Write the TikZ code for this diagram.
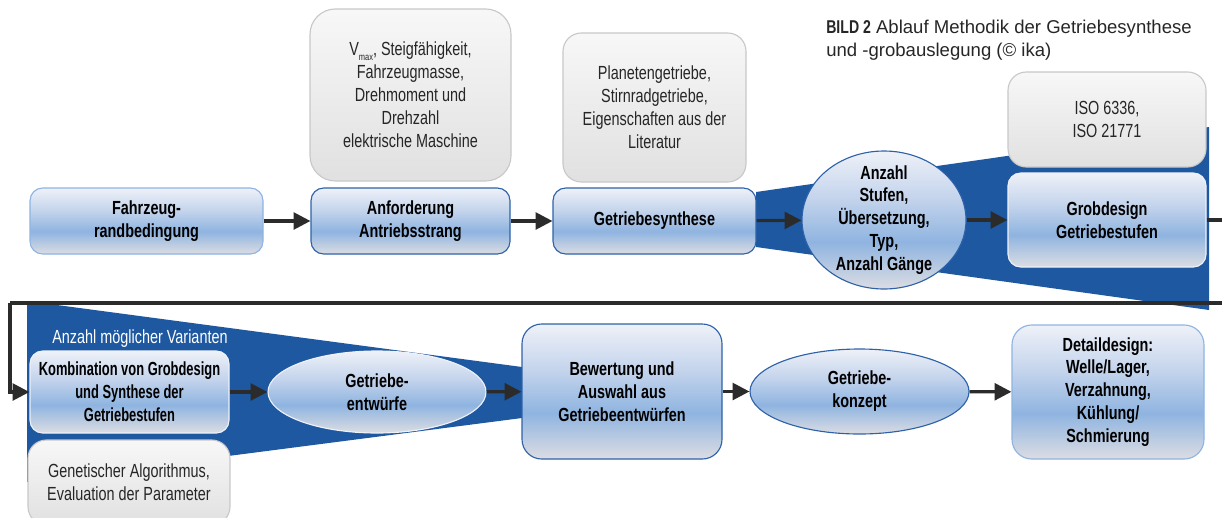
\documentclass[tikz,border=0pt]{standalone}
\usepackage{fontspec}
\setmainfont{Liberation Sans}
\newfontfamily\condfont{Liberation Sans}[FakeStretch=0.76]
\newfontfamily\narrowfont{Liberation Sans}[FakeStretch=0.68]
\usetikzlibrary{shapes.geometric,arrows.meta}

\definecolor{funnelblue}{RGB}{30,88,160}
\definecolor{boxtop}{RGB}{238,241,248}
\definecolor{boxupper}{RGB}{196,212,236}
\definecolor{boxmid}{RGB}{143,180,224}
\definecolor{boxlow}{RGB}{220,221,227}
\definecolor{darkrim}{RGB}{46,98,168}
\definecolor{lightrim}{RGB}{141,180,226}
\definecolor{grayrim}{RGB}{200,200,200}
\definecolor{flowgray}{RGB}{43,43,43}
\pgfdeclareverticalshading{boxshade}{100bp}{color(0bp)=(boxlow); color(25bp)=(boxlow); color(42bp)=(boxmid); color(58bp)=(boxupper); color(75bp)=(boxtop); color(100bp)=(boxtop)}

\begin{document}
\begin{tikzpicture}[
    procbox/.style={rectangle,rounded corners=9pt,shade,shading=boxshade,draw=#1,line width=0.8pt,
      font=\condfont\bfseries\fontsize{13.5}{16.3}\selectfont,align=center,inner sep=0pt},
    procbox/.default=boxtop,
    stateell/.style={ellipse,shade,shading=boxshade,draw=#1,line width=0.8pt,
      font=\condfont\bfseries\fontsize{13.5}{16.3}\selectfont,align=center,inner sep=0pt},
    stateell/.default=boxtop,
    infobox/.style={rectangle,rounded corners=13pt,top color=white!97!black,bottom color=white!88!black,
      draw=grayrim,line width=0.8pt,font=\condfont\fontsize{13.5}{16.3}\selectfont,text=black!85,
      align=center,inner sep=0pt},
    flow/.style={-{Triangle[length=12pt,width=12pt]},line width=2.2pt,draw=flowgray},
    funnel/.style={fill=funnelblue}]
    \useasboundingbox (0,0) rectangle (30.55,-12.925);

    % funnels
    \fill[funnel] (18.9,-4.8) -- (30.225,-3.175) -- (30.225,-7.75) -- (18.9,-6.175) -- cycle;
    \fill[funnel] (0.675,-7.525) -- (13.05,-9.175) -- (13.05,-10.45) -- (0.675,-12.05) -- cycle;

    \node[anchor=north west,align=left,inner sep=0pt,text=black!85,font=\fontsize{13.2}{16.35}\selectfont] (caption) at (20.65,-0.5)
      {{\condfont\bfseries BILD 2} Ablauf Methodik der Getriebesynthese\\und -grobauslegung (\textcopyright{} ika)};

    % first row
    \node[procbox=lightrim,minimum width=5.825cm,minimum height=1.65cm] (fahrzeug) at (3.6625,-5.525) {Fahrzeug-\\randbedingung};
    \node[procbox=darkrim,minimum width=4.975cm,minimum height=1.65cm] (anford) at (10.2625,-5.525) {Anforderung\\Antriebsstrang};
    \node[infobox,minimum width=5.025cm,minimum height=4.3cm,rounded corners=18pt] (anfinfo) at (10.2625,-2.375)
      {V\raisebox{-0.45ex}{\fontsize{7}{7}\selectfont max}, Steigfähigkeit,\\Fahrzeugmasse,\\Drehmoment und\\Drehzahl\\elektrische Maschine};
    \node[procbox=darkrim,minimum width=5.075cm,minimum height=1.65cm] (synth) at (16.3625,-5.525) {Getriebesynthese};
    \node[infobox,minimum width=4.575cm,minimum height=3.725cm] (synthinfo) at (16.3625,-2.6875)
      {Planetengetriebe,\\Stirnradgetriebe,\\Eigenschaften aus der\\Literatur};
    \node[stateell=darkrim,minimum width=4.1cm,minimum height=3.45cm,inner ysep=-6pt] (anzahl) at (22.1,-5.5)
      {Anzahl\\Stufen,\\Übersetzung,\\Typ,\\Anzahl Gänge};
    \node[infobox,minimum width=4.95cm,minimum height=2.375cm] (iso) at (27.675,-2.9875) {ISO 6336,\\ISO 21771};
    \node[procbox,minimum width=4.95cm,minimum height=2.35cm] (grob) at (27.675,-5.5) {Grobdesign\\Getriebestufen};

    % second row
    \node[anchor=west,inner sep=0pt,text=white,font=\condfont\fontsize{13.5}{16.3}\selectfont] (varianten) at (1.3,-8.475) {Anzahl möglicher Varianten};
    \node[procbox,minimum width=4.975cm,minimum height=2.05cm,font=\narrowfont\bfseries\fontsize{13.5}{16.3}\selectfont] (komb) at (3.2375,-9.8)
      {Kombination von Grobdesign\\und Synthese der\\Getriebestufen};
    \node[infobox,minimum width=5.05cm,minimum height=2.125cm] (genet) at (3.225,-12.0625) {Genetischer Algorithmus,\\Evaluation der Parameter};
    \node[stateell,minimum width=5.45cm,minimum height=2.05cm] (entw) at (9.425,-9.8) {Getriebe-\\entwürfe};
    \node[procbox=darkrim,minimum width=5cm,minimum height=3.375cm,rounded corners=14pt] (bewert) at (15.55,-9.7875)
      {Bewertung und\\Auswahl aus\\Getriebeentwürfen};
    \node[stateell=darkrim,minimum width=5.475cm,minimum height=2.125cm] (konzept) at (21.4875,-9.7875) {Getriebe-\\konzept};
    \node[procbox=lightrim,minimum width=4.8cm,minimum height=3.35cm,rounded corners=14pt] (detail) at (27.7,-9.8)
      {Detaildesign:\\Welle/Lager,\\Verzahnung,\\Kühlung/\\Schmierung};

    \coordinate (turnR) at (30.65,-7.575);
    \coordinate (turnL) at (0.25,-7.575);

    \draw[flow] (fahrzeug) -- (anford);
    \draw[flow] (anford) -- (synth);
    \draw[flow] (synth) -- (anzahl);
    \draw[flow] (anzahl) -- (grob);
    \draw[flow,-] (grob.east) -| (turnR) -- (turnL);
    \draw[flow] (turnL) |- (komb.west);
    \draw[flow] (komb) -- (entw);
    \draw[flow] (entw) -- (bewert);
    \draw[flow] (bewert) -- (konzept);
    \draw[flow] (konzept) -- (detail);

  \end{tikzpicture}
\end{document}
